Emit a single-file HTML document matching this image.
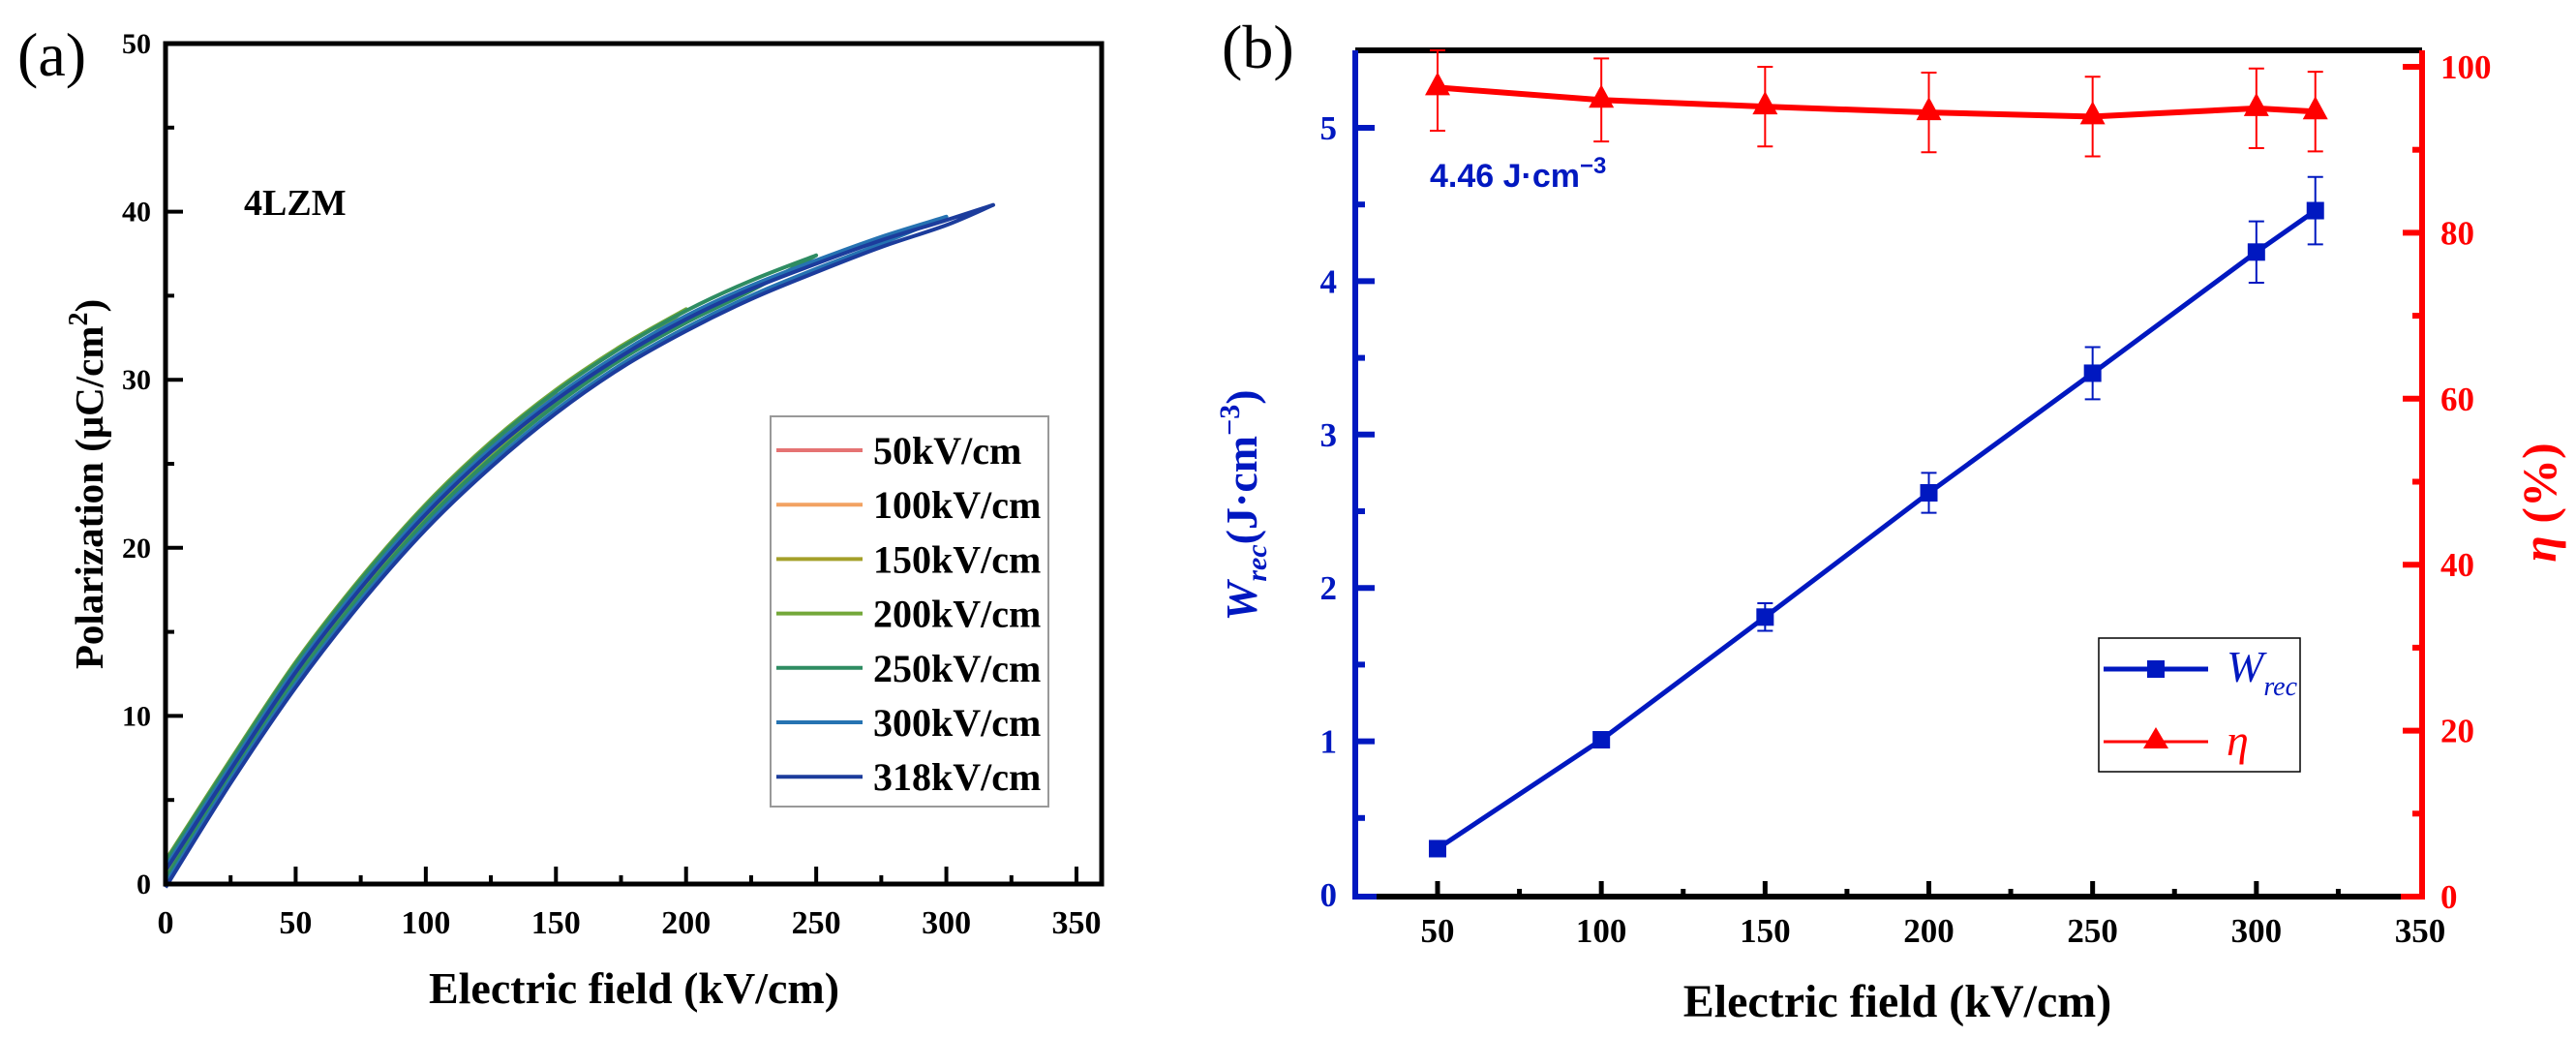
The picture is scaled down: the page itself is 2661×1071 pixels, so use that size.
<!DOCTYPE html>
<html><head><meta charset="utf-8"><style>
html,body{margin:0;padding:0;background:#fff;}
svg{display:block;font-family:"Liberation Serif",serif;}
</style></head><body>
<svg id="fig" width="2661" height="1071" viewBox="0 0 2661 1071" xmlns="http://www.w3.org/2000/svg">
<g id="pa"></g>
<g id="pb"></g>
</svg>
<script>
// ---------- Panel (a) data ----------
const eGrid = [0,25,50,75,100,125,150,175,200,225,250,275,300,318];
const pUpper = [1.0,7.0,12.8,17.8,22.2,25.9,29.0,31.6,33.8,35.6,37.1,38.5,39.7,40.6];
const pLower = [0,6.2,11.9,16.9,21.3,25.0,28.2,30.9,33.1,35.0,36.6,38.1,39.4,40.6];
const seriesLabels = ["50kV/cm","100kV/cm","150kV/cm","200kV/cm","250kV/cm","300kV/cm","318kV/cm"];
const seriesMaxE = [50,100,150,200,250,300,318];
const seriesShift = [0,0,0.2,0.4,0.3,0,-0.2];
const seriesColors = ["#e57373","#f2a262","#a4a02a","#74a83a","#2e8c62","#2673b2","#1c3c9c"];
const aXTicks = [0,50,100,150,200,250,300,350];
const aYTicks = [0,10,20,30,40,50];

// ---------- Panel (b) data ----------
const bField = [50,100,150,200,250,300,318];
const wrec = [0.30,1.01,1.81,2.62,3.40,4.19,4.46];
const wrecErr = [0.02,0.02,0.09,0.13,0.17,0.20,0.22];
const eta = [97.5,96.0,95.2,94.5,94.0,95.0,94.6];
const etaErr = [5.2,5.0,4.8,4.8,4.8,4.8,4.8];
const bXTicks = [50,100,150,200,250,300,350];
const bLeftTicks = [0,1,2,3,4,5];
const bRightTicks = [0,20,40,60,80,100];

const NS="http://www.w3.org/2000/svg";
function mk(parent,tag,attrs,text){const e=document.createElementNS(NS,tag);for(const k in attrs)e.setAttribute(k,attrs[k]);if(text!==undefined)e.textContent=text;parent.appendChild(e);return e;}
function smooth(pts){
  let d='M'+pts[0][0].toFixed(1)+' '+pts[0][1].toFixed(1);
  for(let i=0;i<pts.length-1;i++){
    const p0=pts[Math.max(i-1,0)],p1=pts[i],p2=pts[i+1],p3=pts[Math.min(i+2,pts.length-1)];
    const c1=[p1[0]+(p2[0]-p0[0])/6,p1[1]+(p2[1]-p0[1])/6];
    const c2=[p2[0]-(p3[0]-p1[0])/6,p2[1]-(p3[1]-p1[1])/6];
    d+=` C${c1[0].toFixed(1)} ${c1[1].toFixed(1)} ${c2[0].toFixed(1)} ${c2[1].toFixed(1)} ${p2[0].toFixed(1)} ${p2[1].toFixed(1)}`;
  }
  return d;
}

// ===== Panel A =====
const pa=document.getElementById('pa');
const aL=171,aR=1138,aT=45,aB=913;
const ax=v=>aL+v*(1112-171)/350;
const ay=v=>aB-v*(aB-aT)/50;
let t;
t=mk(pa,'text',{x:18,y:78,'font-size':64});t.textContent='(a)';


seriesMaxE.forEach((m,i)=>{
  const up=[],dn=[];
  for(let k=0;k<eGrid.length;k++){
    if(eGrid[k]<=m){up.push([eGrid[k],pUpper[k]+seriesShift[i]]);dn.push([eGrid[k],pLower[k]+seriesShift[i]]);}
  }
  const last=up[up.length-1][0];
  if(last<m){
    const k=eGrid.findIndex(e=>e>m);
    const f=(m-eGrid[k-1])/(eGrid[k]-eGrid[k-1]);
    const pu=pUpper[k-1]+f*(pUpper[k]-pUpper[k-1])+seriesShift[i];
    up.push([m,pu]);dn.push([m,pu]);
  } else {dn[dn.length-1][1]=up[up.length-1][1];}
  const upPx=up.map(p=>[ax(p[0]),ay(p[1])]);
  const dnPx=dn.slice().reverse().map(p=>[ax(p[0]),ay(p[1])]);
  const d=smooth(upPx)+' '+smooth(dnPx).replace(/^M[^C]*/,'');
  const path=mk(pa,'path',{d:d,fill:'none',stroke:seriesColors[i],'stroke-width':4,'stroke-linejoin':'round'});
  
  
});
let r=mk(pa,'rect',{x:aL,y:aT,width:aR-aL,height:aB-aT,fill:'none',stroke:'#000','stroke-width':5});


for(let v=0;v<=350;v+=25){const maj=v%50===0;mk(pa,'line',{x1:ax(v),x2:ax(v),y1:aB,y2:aB-(maj?18:9),stroke:'#000','stroke-width':4});}
for(let v=0;v<=50;v+=5){const maj=v%10===0;mk(pa,'line',{x1:aL,x2:aL+(maj?18:9),y1:ay(v),y2:ay(v),stroke:'#000','stroke-width':4});}
aXTicks.forEach(v=>{t=mk(pa,'text',{x:ax(v),y:964,'font-size':34,'font-weight':'bold','text-anchor':'middle'},String(v));

});
aYTicks.forEach(v=>{t=mk(pa,'text',{x:156,y:ay(v)+10,'font-size':30,'font-weight':'bold','text-anchor':'end'},String(v));

});
t=mk(pa,'text',{x:655,y:1036,'font-size':46,'font-weight':'bold','text-anchor':'middle'},'Electric field (kV/cm)');


t=mk(pa,'text',{x:0,y:0,'font-size':41,'font-weight':'bold','text-anchor':'middle',transform:'translate(106,500) rotate(-90)'});
t.innerHTML='Polarization (μC/cm<tspan dy="-16" font-size="28">2</tspan><tspan dy="16">)</tspan>';


t=mk(pa,'text',{x:252,y:222,'font-size':38,'font-weight':'bold'},'4LZM');


const lg=mk(pa,'g',{});


mk(lg,'rect',{x:796,y:430,width:287,height:403,fill:'#fff',stroke:'#999','stroke-width':2});
seriesLabels.forEach((s,i)=>{const y=465+i*56.2;
  mk(lg,'line',{x1:802,x2:891,y1:y,y2:y,stroke:seriesColors[i],'stroke-width':4});
  const tt=mk(lg,'text',{x:902,y:y+14,'font-size':40,'font-weight':'bold'},s);
  
  
});

// ===== Panel B =====
const pb=document.getElementById('pb');
const bL=1400,bR=2502,bT=52,bB=926;
const bx=v=>1485+(v-50)*(2500-1485)/300;
const byL=v=>924-v*158.4;
const byR=v=>926-v*8.57;
const BLUE='#0018c0',RED='#ff0000';
t=mk(pb,'text',{x:1262,y:70,'font-size':64},'(b)');


mk(pb,'line',{x1:bL,x2:bR,y1:bT,y2:bT,stroke:'#000','stroke-width':6});
mk(pb,'line',{x1:bL,x2:bR,y1:bB,y2:bB,stroke:'#000','stroke-width':6});
let la=mk(pb,'line',{x1:bL,x2:bL,y1:bT,y2:bB+3,stroke:BLUE,'stroke-width':6});


mk(pb,'line',{x1:bL,x2:bL+22,y1:bB,y2:bB,stroke:BLUE,'stroke-width':6});
let ra=mk(pb,'line',{x1:bR,x2:bR,y1:bT,y2:bB+3,stroke:RED,'stroke-width':6});


mk(pb,'line',{x1:bR-22,x2:bR,y1:bB,y2:bB,stroke:RED,'stroke-width':6});
for(let v=50;v<=325;v+=25){const maj=v%50===0;mk(pb,'line',{x1:bx(v),x2:bx(v),y1:bB,y2:bB-(maj?16:8),stroke:'#000','stroke-width':5});}
for(let v=0.5;v<=5;v+=0.5){const maj=Math.abs(v-Math.round(v))<0.01;mk(pb,'line',{x1:bL,x2:bL+(maj?20:10),y1:byL(v),y2:byL(v),stroke:BLUE,'stroke-width':6});}
for(let v=10;v<=100;v+=10){const maj=v%20===0;mk(pb,'line',{x1:bR,x2:bR-(maj?20:10),y1:byR(v),y2:byR(v),stroke:RED,'stroke-width':6});}
bXTicks.forEach(v=>{t=mk(pb,'text',{x:bx(v),y:973,'font-size':35,'font-weight':'bold','text-anchor':'middle'},String(v));

});
bLeftTicks.forEach(v=>{t=mk(pb,'text',{x:1381,y:byL(v)+12,'font-size':35,'font-weight':'bold','text-anchor':'end',fill:BLUE},String(v));

});
bRightTicks.forEach(v=>{t=mk(pb,'text',{x:2521,y:byR(v)+12,'font-size':35,'font-weight':'bold',fill:RED},String(v));

});
t=mk(pb,'text',{x:1960,y:1050,'font-size':48,'font-weight':'bold','text-anchor':'middle'},'Electric field (kV/cm)');


t=mk(pb,'text',{x:0,y:0,'font-size':46,'font-weight':'bold','text-anchor':'middle',fill:BLUE,transform:'translate(1298,522) rotate(-90)'});
t.innerHTML='<tspan font-style="italic">W</tspan><tspan font-style="italic" font-size="30" dy="10">rec</tspan><tspan dy="-10">(J·cm</tspan><tspan font-size="30" dy="-18">−3</tspan><tspan dy="18">)</tspan>';


t=mk(pb,'text',{x:0,y:0,'font-size':50,'font-weight':'bold','text-anchor':'middle',fill:RED,transform:'translate(2640,519) rotate(-90)'});
t.innerHTML='<tspan font-style="italic">η</tspan> (%)';


t=mk(pb,'text',{x:1477,y:193,'font-size':34,'font-weight':'bold',fill:BLUE,'font-family':'Liberation Sans, sans-serif'});
t.innerHTML='4.46 J·cm<tspan font-size="24" dy="-14">−3</tspan>';


let ep=mk(pb,'polyline',{points:bField.map((f,i)=>bx(f)+','+byR(eta[i])).join(' '),fill:'none',stroke:RED,'stroke-width':6});


bField.forEach((f,i)=>{const x=bx(f),y=byR(eta[i]);
  const yt=Math.max(byR(eta[i]+etaErr[i]),bT),yb=byR(eta[i]-etaErr[i]);
  mk(pb,'path',{d:`M${x} ${yt}V${yb}M${x-8} ${yt}h16M${x-8} ${yb}h16`,stroke:RED,'stroke-width':2,fill:'none'});
  const m=mk(pb,'path',{d:`M${x} ${y-16}L${x+13} ${y+8}L${x-13} ${y+8}Z`,fill:RED});
  
  
});
let wp=mk(pb,'polyline',{points:bField.map((f,i)=>bx(f)+','+byL(wrec[i])).join(' '),fill:'none',stroke:BLUE,'stroke-width':5});


bField.forEach((f,i)=>{const x=bx(f),y=byL(wrec[i]);
  const yt=byL(wrec[i]+wrecErr[i]),yb=byL(wrec[i]-wrecErr[i]);
  mk(pb,'path',{d:`M${x} ${yt}V${yb}M${x-8} ${yt}h16M${x-8} ${yb}h16`,stroke:BLUE,'stroke-width':2,fill:'none'});
  const m=mk(pb,'rect',{x:x-9,y:y-9,width:18,height:18,fill:BLUE});
  
  
});
const lb=mk(pb,'g',{});


mk(lb,'rect',{x:2168,y:659,width:208,height:138,fill:'#fff',stroke:'#000','stroke-width':1.5});
mk(lb,'line',{x1:2173,x2:2281,y1:691,y2:691,stroke:BLUE,'stroke-width':5});
mk(lb,'rect',{x:2218,y:682,width:18,height:18,fill:BLUE});
t=mk(lb,'text',{x:2300,y:704,'font-size':46,'font-style':'italic',fill:BLUE});
t.innerHTML='W<tspan font-size="28" dy="14">rec</tspan>';


mk(lb,'line',{x1:2173,x2:2281,y1:766,y2:766,stroke:RED,'stroke-width':3});
mk(lb,'path',{d:'M2227 751L2240 773L2214 773Z',fill:RED});
t=mk(lb,'text',{x:2300,y:780,'font-size':46,'font-style':'italic',fill:RED},'η');


</script>
</body></html>
